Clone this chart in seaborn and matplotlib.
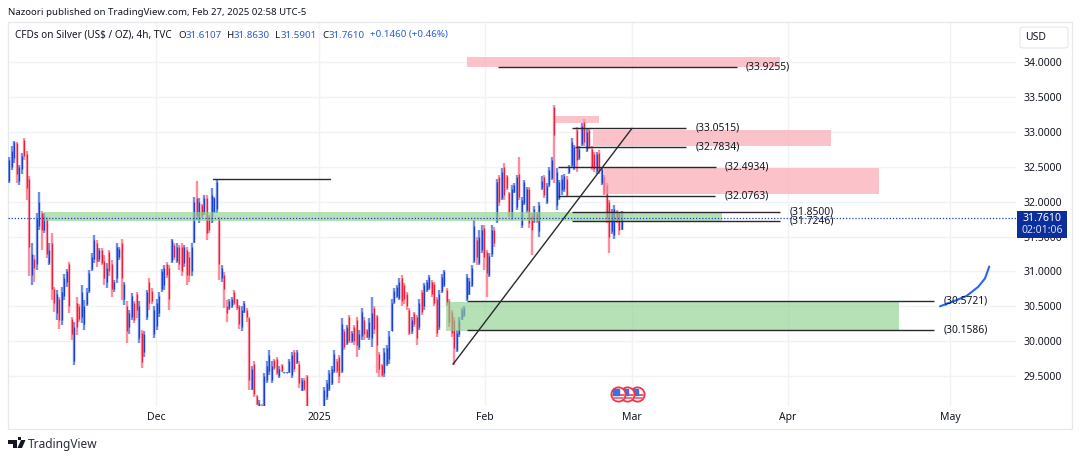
import numpy as np
import pandas as pd
import matplotlib
matplotlib.use("Agg")
import matplotlib.pyplot as plt
from matplotlib.patches import Rectangle, Polygon, Circle, FancyBboxPatch
import seaborn as sns

opens = [32.30,32.50,32.62,32.84,32.30,32.46,32.88,32.68,32.33,30.95,
 31.18,31.10,31.65,31.84,31.60,31.75,31.12,31.40,30.75,30.40,
 30.60,30.30,30.65,30.85,31.10,30.32,29.72,30.55,30.50,30.35,
 30.25,30.54,30.72,31.03,31.18,31.40,31.18,31.30,31.15,30.85,
 31.28,31.10,30.75,30.90,31.20,31.40,30.60,30.50,30.20,30.35,
 30.55,30.68,30.05,30.12,29.85,30.35,30.85,30.72,30.10,30.22,
 30.40,30.75,30.80,31.10,31.05,31.15,31.38,31.15,31.35,31.35,
 31.12,31.30,31.20,31.00,31.42,32.05,31.75,31.95,31.85,32.05,
 31.78,31.72,31.85,31.90,31.76,30.90,30.95,30.50,30.47,30.50,
 30.70,30.60,30.50,30.20,30.42,30.45,30.33,29.32,29.68,29.22,
 29.02,29.08,29.05,29.45,29.58,29.45,29.73,29.75,29.50,29.66,
 29.55,29.55,29.56,29.52,29.85,29.70,29.68,29.30,29.45,29.50,
 28.98,28.88,28.95,28.88,28.95,28.86,29.05,29.20,29.32,29.40,
 29.58,29.72,29.78,29.58,30.15,29.98,30.35,30.00,30.20,30.30,
 29.92,30.08,30.30,30.16,30.06,30.05,30.47,30.36,29.82,29.66,
 29.55,29.68,29.75,30.15,30.56,30.65,30.62,30.90,30.80,30.68,
 30.45,30.15,30.40,30.35,30.20,30.70,30.50,30.74,30.76,30.85,
 30.82,30.60,30.20,30.72,30.80,30.74,30.58,30.42,30.30,29.88,
 30.10,30.32,30.38,30.60,30.68,30.80,31.15,31.45,31.12,31.30,
 31.62,31.28,30.95,31.25,31.60,31.72,32.35,32.05,32.50,32.36,
 32.12,31.78,32.14,31.92,32.40,31.66,31.98,31.88,32.18,31.80,
 31.72,31.83,31.58,32.19,32.35,32.00,32.24,32.34,33.35,31.95,
 32.05,32.16,32.18,32.33,32.42,32.52,32.48,33.02,32.62,32.82,
 33.15,32.74,33.02,32.76,32.68,32.44,32.70,32.26,32.35,32.24,
 32.00,31.58,31.52,31.86,31.83,31.61]
highs = [32.64,32.79,32.87,32.86,32.52,32.69,32.91,32.72,32.36,31.40,
 31.23,31.83,32.14,31.86,31.83,31.78,31.40,31.55,30.78,30.73,
 30.64,30.78,30.97,31.04,31.14,30.35,30.28,30.64,30.54,30.80,
 30.59,30.76,31.02,31.26,31.52,31.45,31.33,31.33,31.23,31.12,
 31.31,31.16,30.88,31.40,31.35,31.46,30.85,30.57,30.45,30.69,
 30.57,30.71,30.57,30.16,30.14,30.73,30.90,30.76,30.50,30.61,
 30.71,31.04,31.09,31.14,31.09,31.47,31.40,31.40,31.38,31.40,
 31.38,31.35,31.28,31.40,32.07,32.29,32.05,31.97,32.09,32.09,
 31.81,32.19,32.07,32.31,31.78,31.09,30.99,30.59,30.61,30.64,
 30.73,30.61,30.52,30.50,30.57,30.47,30.35,29.64,29.71,29.23,
 29.16,29.10,29.54,29.71,29.87,29.71,29.75,29.78,29.64,29.68,
 29.56,29.56,29.75,29.85,29.87,29.87,29.71,29.47,29.47,29.52,
 29.02,28.98,29.02,29.00,29.00,29.00,29.35,29.44,29.59,29.64,
 29.87,29.75,29.80,30.33,30.18,30.23,30.37,30.14,30.23,30.35,
 30.16,30.47,30.35,30.18,30.33,30.64,30.50,30.38,29.85,29.68,
 29.90,29.95,30.14,30.61,30.76,30.80,30.90,30.95,30.83,30.71,
 30.47,30.35,30.42,30.37,30.61,30.73,30.83,30.88,30.95,30.88,
 30.85,30.64,30.73,30.97,31.02,30.76,30.61,30.45,30.35,30.16,
 30.35,30.47,30.50,30.97,30.90,31.09,31.74,31.50,31.59,31.66,
 31.66,31.31,31.26,31.66,31.64,32.33,32.38,32.48,32.55,32.38,
 32.14,32.24,32.26,32.38,32.64,32.07,32.31,32.21,32.21,31.83,
 31.93,31.85,32.00,32.36,32.38,32.26,32.50,32.64,33.38,32.48,
 32.31,32.38,32.40,32.36,32.52,32.91,32.81,33.07,32.79,33.12,
 33.19,33.05,33.05,32.79,32.71,32.71,32.74,32.50,32.38,32.26,
 32.02,31.90,31.95,31.88,31.85,31.86]
lows = [32.26,32.45,32.55,32.26,32.24,32.40,32.60,32.02,30.93,30.81,
 30.85,31.02,31.59,31.31,31.55,31.19,31.09,30.59,30.42,30.30,
 30.18,30.23,30.59,30.78,30.40,30.02,29.66,30.09,30.28,30.26,
 30.16,30.50,30.69,31.00,31.12,31.07,31.14,31.09,30.81,30.76,
 30.93,30.64,30.71,30.83,31.16,30.59,30.52,29.97,30.11,30.30,
 30.26,30.33,29.97,29.61,29.78,30.30,30.45,30.54,30.04,30.16,
 30.35,30.71,30.73,30.90,30.45,31.12,31.16,31.12,31.02,30.93,
 31.07,30.81,30.85,30.93,31.40,31.74,31.69,31.76,31.81,31.45,
 31.55,31.69,31.83,31.83,30.88,30.85,30.47,30.28,30.45,30.47,
 30.52,30.45,30.18,30.14,30.40,30.28,29.30,29.30,29.20,29.09,
 29.00,28.95,29.00,29.40,29.52,29.40,29.59,29.52,29.47,29.56,
 29.54,29.54,29.54,29.47,29.56,29.68,29.33,29.28,29.28,28.95,
 28.80,28.78,28.82,28.84,28.80,28.82,29.00,29.16,29.28,29.37,
 29.54,29.54,29.40,29.54,29.87,29.95,29.97,29.97,29.95,29.78,
 29.87,30.02,30.02,30.04,30.02,29.92,30.11,29.54,29.49,29.49,
 29.49,29.64,29.68,30.14,30.54,30.62,30.59,30.50,30.54,30.45,
 30.09,30.11,30.21,29.95,30.16,30.37,30.45,30.71,30.73,30.64,
 30.50,30.06,30.16,30.69,30.78,30.50,30.21,30.06,29.66,29.85,
 30.06,30.30,30.35,30.57,30.66,30.78,31.12,31.09,31.09,31.26,
 31.02,30.64,30.92,31.21,31.35,31.69,31.93,32.02,32.02,32.17,
 31.78,31.74,32.12,31.88,32.02,31.62,31.95,31.83,31.62,31.24,
 31.69,31.69,31.50,32.17,32.05,31.97,32.21,32.31,32.26,31.88,
 32.02,32.10,32.14,32.07,32.40,32.50,32.45,32.43,32.60,32.79,
 32.79,32.71,32.76,32.45,32.43,32.40,32.40,32.24,32.09,31.69,
 31.26,31.54,31.47,31.69,31.52,31.59]
closes = [32.60,32.72,32.85,32.40,32.50,32.65,32.66,32.20,31.35,31.25,
 31.05,31.75,32.00,31.60,31.80,31.25,31.30,30.75,30.55,30.68,
 30.30,30.70,30.90,31.00,30.50,30.10,30.20,30.20,30.32,30.70,
 30.50,30.70,30.98,31.20,31.45,31.15,31.30,31.12,30.90,31.05,
 31.00,30.75,30.85,31.35,31.32,30.90,30.82,30.15,30.40,30.65,
 30.30,30.45,30.50,29.70,30.10,30.70,30.55,30.58,30.45,30.55,
 30.65,31.00,31.05,30.95,30.60,31.45,31.20,31.35,31.10,31.00,
 31.35,30.95,30.95,31.35,32.00,31.80,32.00,31.80,32.05,31.55,
 31.60,32.10,32.05,32.28,31.10,31.05,30.75,30.40,30.58,30.60,
 30.55,30.48,30.25,30.45,30.55,30.35,29.45,29.60,29.25,29.10,
 29.12,29.00,29.50,29.65,29.80,29.65,29.62,29.55,29.60,29.58,
 29.56,29.56,29.72,29.80,29.60,29.85,29.40,29.45,29.32,29.00,
 28.85,28.95,28.86,28.96,28.84,28.98,29.30,29.40,29.55,29.60,
 29.82,29.58,29.50,30.25,29.92,30.20,30.00,30.12,30.00,29.95,
 30.10,30.42,30.10,30.06,30.28,30.40,30.18,29.95,29.60,29.52,
 29.85,29.90,30.08,30.55,30.72,30.78,30.85,30.58,30.60,30.50,
 30.12,30.30,30.25,30.05,30.55,30.42,30.80,30.85,30.92,30.68,
 30.55,30.12,30.68,30.92,31.00,30.55,30.28,30.12,29.90,30.12,
 30.30,30.45,30.48,30.92,30.86,31.05,31.65,31.20,31.50,31.60,
 31.20,30.98,31.22,31.60,31.40,32.28,32.00,32.42,32.10,32.20,
 31.85,32.18,32.24,32.35,32.06,32.02,32.28,32.18,31.70,31.60,
 31.90,31.72,31.95,32.30,32.10,32.22,32.45,32.60,32.95,32.42,
 32.28,32.32,32.36,32.10,32.50,32.85,32.78,32.60,32.76,33.08,
 32.85,33.00,32.80,32.50,32.46,32.68,32.44,32.46,32.12,31.76,
 31.50,31.85,31.90,31.72,31.60,31.76]

price_ticks = [29.5, 30.0, 30.5, 31.0, 31.5, 32.0, 32.5, 33.0, 33.5, 34.0]
month_labels = ["Dec", "2025", "Feb", "Mar", "Apr", "May"]
month_bars = [58.8, 124.0, 190.4, 249.2, 311.6, 376.4]

# zones: start bar, end bar, bottom price, top price
pink_zones = [(183.2, 308.4, 33.93, 34.07), (218.4, 236.0, 33.13, 33.23),
              (233.6, 328.8, 32.80, 33.02), (238.0, 348.0, 32.11, 32.48)]
green_zones = [(14.0, 285.2, 31.726, 31.847), (174.8, 356.0, 30.15, 30.56)]
# levels: start bar, end bar, price, label start bar
levels = [(195.6, 291.2, 33.9255, 294.8), (225.2, 270.8, 33.0515, 274.8),
          (226.4, 270.8, 32.7834, 274.8), (219.6, 282.8, 32.4934, 286.4),
          (219.6, 282.4, 32.0763, 286.4), (225.2, 308.4, 31.8500, 312.4),
          (225.2, 308.4, 31.7246, 312.4), (183.2, 370.0, 30.5721, 374.0),
          (183.2, 370.0, 30.1586, 374.0)]
plain_level = (81.6, 128.4, 32.32)
trend_bars = [177.6, 249.2]
trend_prices = [29.67, 33.05]
path_bars = [372.4, 377.7, 383.1, 387.7, 390.4, 392.1]
path_prices = [30.50, 30.57, 30.65, 30.78, 30.90, 31.07]
last_price = 31.7610
event_bars = [251.2, 247.2, 243.6]
event_price = 29.244

W, H = 1080, 459
sns.set_theme(style="white")
FONT = ["Noto Sans", "DejaVu Sans"]
plt.rcParams["font.family"] = FONT
INK = "#131722"
BLUE, RED = "#1a3fd6", "#f21c38"
BLUE_L, RED_L = "#6f90e6", "#ff8e9c"

def fx(p): return p / W
def fy(p): return 1 - p / H

fig = plt.figure(figsize=(W / 100, H / 100), dpi=100, facecolor="white")
ax = fig.add_axes([fx(8), fy(406), 1008 / W, 384 / H])
ax.set_facecolor("white")

bars = np.arange(len(opens))
candles = pd.DataFrame({"bar": bars, "open": opens, "high": highs, "low": lows, "close": closes})
candles["side"] = np.where(candles["close"] >= candles["open"], "up", "down")
wicks = candles.melt(id_vars=["bar", "side"], value_vars=["low", "high"], value_name="price")
bodies = candles.melt(id_vars=["bar", "side"], value_vars=["open", "close"], value_name="price")
sns.lineplot(data=wicks, x="bar", y="price", hue="side", units="bar", estimator=None,
             palette={"up": BLUE_L, "down": RED_L}, lw=1.7, legend=False, ax=ax, zorder=3,
             solid_capstyle="butt")
sns.lineplot(data=bodies, x="bar", y="price", hue="side", units="bar", estimator=None,
             palette={"up": BLUE, "down": RED}, lw=0.9, legend=False, ax=ax, zorder=3.1,
             solid_capstyle="butt")

for x0, x1, lo, hi in pink_zones:
    ax.add_patch(Rectangle((x0, lo), x1 - x0, hi - lo, fc="#f9a3ad", ec="none", alpha=0.65, zorder=4))
for x0, x1, lo, hi in green_zones:
    ax.add_patch(Rectangle((x0, lo), x1 - x0, hi - lo, fc="#8fd08f", ec="none", alpha=0.65, zorder=4))
for x0, x1, p, lx in levels:
    ax.plot([x0, x1], [p, p], color="#2a2a2e", lw=1.0, zorder=5, solid_capstyle="butt")
    ax.text(lx, p, f"({p:.4f})", fontsize=7.4, color=INK, va="center", ha="left", zorder=6,
            fontweight="bold" if p > 33.5 else "normal")
ax.plot(plain_level[:2], [plain_level[2]] * 2, color="#2a2a2e", lw=1.0, zorder=5)
ax.plot(trend_bars, trend_prices, color="#2a2a2e", lw=1.0, zorder=5)
ax.plot(path_bars, path_prices, color="#2962ff", lw=1.5, zorder=5)
ax.axhline(last_price, color="#1c3fc4", lw=0.9, ls=(0, (1, 1.5)), zorder=5)

# event icons
for k, b in enumerate(event_bars):
    z = 7 + k
    ax.scatter([b], [event_price], s=105, fc="white", ec="#f23645", lw=1.3, zorder=z)
    ax.plot([b - 2.2, b + 2.2], [event_price - 0.015] * 2, color="#f25a6b", lw=1.5, zorder=z + 0.1)
    ax.plot([b - 1.9, b + 1.9], [event_price - 0.055] * 2, color="#f25a6b", lw=1.2, zorder=z + 0.1)
    ax.scatter([b - 1.0], [event_price + 0.035], s=20, marker="s", c="#3f6fd8", zorder=z + 0.2)

ax.set_xlim(-0.4, 402.8)
ax.set_ylim(29.072, 34.573)
ax.set_yticks(price_ticks)
ax.set_yticklabels([f"{t:.4f}" for t in price_ticks])
ax.set_xticks(month_bars)
ax.set_xticklabels(month_labels)
ax.yaxis.tick_right()
ax.tick_params(axis="y", length=0, pad=5.5, labelsize=7.5, labelcolor=INK)
ax.tick_params(axis="x", length=0, pad=4.5, labelsize=7.5, labelcolor=INK)
for lab in ax.get_xticklabels():
    if lab.get_text() == "2025":
        lab.set_fontweight("bold")
ax.grid(True, color="#f1f2f5", lw=1.0)
ax.set_axisbelow(True)
ax.set_xlabel("")
ax.set_ylabel("")
sns.despine(ax=ax, left=True, bottom=True, top=True, right=True)

# frame and scale boxes, in figure space
tf = fig.transFigure
ax.add_patch(Rectangle((fx(8), fy(429)), 1064 / W, 407 / H, transform=tf, fc="none", ec="#e6e8ee",
                       lw=0.9, clip_on=False, zorder=1))
ax.add_patch(FancyBboxPatch((fx(1020), fy(48)), 48 / W, 21 / H, transform=tf, clip_on=False,
                            boxstyle="round,pad=0,rounding_size=0.004", fc="white", ec="#e6e8ee", lw=0.8, zorder=6))
fig.text(fx(1036), fy(37.5), "USD", fontsize=7.5, color=INK, ha="center", va="center", zorder=8)
ax.add_patch(Rectangle((fx(1017), fy(238)), 50 / W, 27 / H, transform=tf, fc="#0b2e9c", ec="none",
                       clip_on=False, zorder=20))
ax.text(fx(1042), fy(218.5), f"{last_price:.4f}", transform=tf, fontsize=7.5, fontweight="bold",
        color="white", ha="center", va="center", zorder=21, clip_on=False)
ax.text(fx(1042), fy(230.5), "02:01:06", transform=tf, fontsize=7.5, color="#d5ddf5",
        ha="center", va="center", zorder=21, clip_on=False)

# header
fig.text(fx(8), fy(12.5), "Nazoori published on TradingView.com, Feb 27, 2025 02:58 UTC-5",
         fontsize=6.95, color=INK, ha="left", va="center")
fig.text(fx(15), fy(35), "CFDs on Silver (US$ / OZ), 4h, TVC", fontsize=7.2, color=INK, ha="left", va="center")
LINK = "#2b5cd8"
for x, t, c in [(178, "O", INK), (186, "31.6107", LINK), (227, "H", INK), (234, "31.8630", LINK),
                (275, "L", INK), (281, "31.5901", LINK), (322, "C", INK), (329, "31.7610", LINK),
                (370, "+0.1460 (+0.46%)", LINK)]:
    fig.text(fx(x), fy(35), t, fontsize=7.0, color=c, ha="left", va="center")

# footer logo and name
logo = "#131722"
fig.add_artist(Polygon([(fx(8), fy(440)), (fx(17), fy(440)), (fx(17), fy(448)), (fx(12.5), fy(448)),
                        (fx(12.5), fy(443.5)), (fx(8), fy(443.5))], closed=True, fc=logo, ec="none", transform=tf))
fig.add_artist(Polygon([(fx(21), fy(440)), (fx(25.5), fy(440)), (fx(22), fy(448)), (fx(17.5), fy(448))],
                       closed=True, fc=logo, ec="none", transform=tf))
fig.add_artist(Rectangle((fx(18), fy(440.2)), 3 / W, 3.4 / H, fc=logo, ec="none", transform=tf))
fig.text(fx(28), fy(444.5), "TradingView", fontsize=8.6, color="#2a2e39", ha="left", va="center")

fig.savefig("out.png", dpi=100, facecolor="white")
